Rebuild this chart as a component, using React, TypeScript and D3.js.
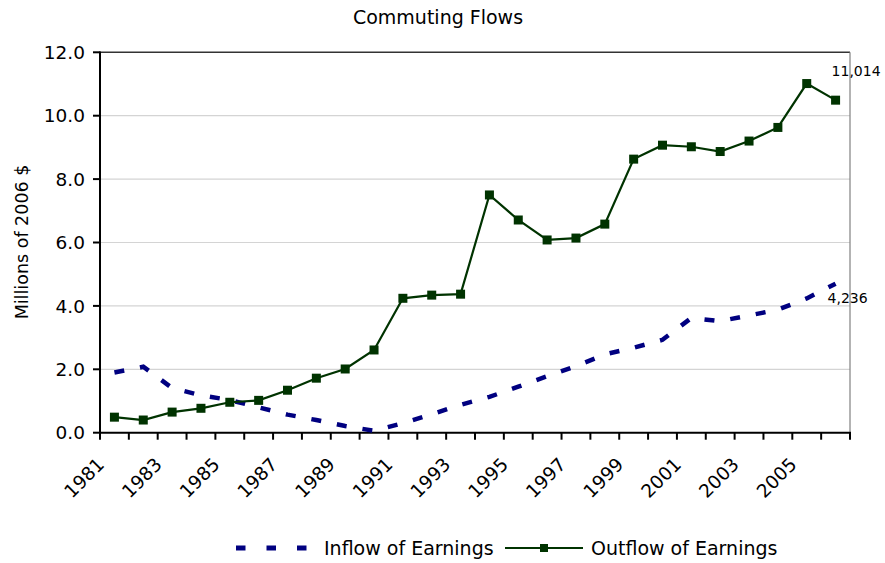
import * as d3 from 'd3'

const years = ['1981', '1982', '1983', '1984', '1985', '1986', '1987', '1988', '1989', '1990', '1991', '1992', '1993',
  '1994', '1995', '1996', '1997', '1998', '1999', '2000', '2001', '2002', '2003', '2004', '2005', '2006']

// millions of 2006 $
const inflow = [1.9, 2.08, 1.41, 1.18, 1.03, 0.8, 0.57, 0.4, 0.21, 0.06, 0.3, 0.58, 0.88, 1.13, 1.45, 1.78, 2.1,
  2.47, 2.68, 2.93, 3.62, 3.52, 3.7, 3.88, 4.236, 4.7]
const outflow = [0.49, 0.4, 0.65, 0.77, 0.96, 1.02, 1.34, 1.72, 2.01, 2.61, 4.24, 4.34, 4.37, 7.5, 6.71, 6.08, 6.14,
  6.58, 8.63, 9.07, 9.02, 8.87, 9.2, 9.63, 11.014, 10.49]

const yTicks = [0, 2, 4, 6, 8, 10, 12]
const labelYears = years.filter((_, i) => i % 2 === 0)

const FONT = '"DejaVu Sans", "Liberation Sans", Arial, sans-serif'
const NAVY = '#000080'
const GREEN = '#003300'

export default function App() {
  const width = 885
  const height = 563
  const left = 100
  const right = 850
  const top = 52.3
  const bottom = 432.7

  const x = d3.scaleBand<string>().domain(years).range([left, right]).padding(0)
  const y = d3.scaleLinear().domain([0, 12]).range([bottom, top])
  const cx = (yr: string) => x(yr)! + x.bandwidth() / 2

  const line = d3.line<number>()
    .x((_, i) => cx(years[i]))
    .y(d => y(d))

  const boundaries = years.map(yr => x(yr)!).concat([right])
  const last = years[years.length - 1]
  const sq = 9

  return (
    <svg width={width} height={height} style={{ position: 'absolute', left: 0, top: 0, background: '#fff' }}
      fontFamily={FONT}>
      <rect x={0} y={0} width={width} height={height} fill="#fff" />
      <text x={438} y={24} textAnchor="middle" fontSize={19} fill="#000">Commuting Flows</text>

      {/* gridlines */}
      {yTicks.filter(t => t > 0 && t < 12).map(t => (
        <line key={t} x1={left} x2={right} y1={y(t)} y2={y(t)} stroke="#d4d4d4" strokeWidth={1.2} />
      ))}
      {/* plot border */}
      <line x1={left} x2={right} y1={y(12)} y2={y(12)} stroke="#333" strokeWidth={1.4} />
      <line x1={right} x2={right} y1={top} y2={bottom} stroke="#808080" strokeWidth={1.2} />

      {/* y axis */}
      <line x1={left} x2={left} y1={top - 0.7} y2={bottom + 1} stroke="#000" strokeWidth={2} />
      {yTicks.map(t => (
        <g key={t}>
          <line x1={left - 7} x2={left} y1={y(t)} y2={y(t)} stroke="#000" strokeWidth={2} />
          <text x={85} y={y(t)} dy="0.36em" textAnchor="end" fontSize={18.5} fill="#000">{t.toFixed(1)}</text>
        </g>
      ))}
      <text transform={`translate(28,242) rotate(-90)`} textAnchor="middle" fontSize={17.5} fill="#000">
        Millions of 2006 $
      </text>

      {/* x axis */}
      <line x1={left - 1} x2={right + 1} y1={bottom} y2={bottom} stroke="#000" strokeWidth={2} />
      {boundaries.map((bx, i) => (
        <line key={i} x1={bx} x2={bx} y1={bottom} y2={bottom + 7} stroke="#000" strokeWidth={2} />
      ))}
      {labelYears.map(yr => (
        <text key={yr} transform={`translate(${cx(yr) - 9},${bottom + 33}) rotate(-45)`} textAnchor="end"
          fontSize={18.5} fill="#000">{yr}</text>
      ))}

      {/* series */}
      <path d={line(inflow)!} fill="none" stroke={NAVY} strokeWidth={4.5} strokeDasharray="10,16" />
      <path d={line(outflow)!} fill="none" stroke={GREEN} strokeWidth={2.2} />
      {outflow.map((v, i) => (
        <rect key={i} x={cx(years[i]) - sq / 2} y={y(v) - sq / 2} width={sq} height={sq} fill={GREEN} />
      ))}

      {/* value notes */}
      <text x={cx(last) - 4} y={y(outflow[24]) - 8} fontSize={14} fill="#000">
        {d3.format(',')(Math.round(outflow[24] * 1000))}
      </text>
      <text x={cx(last) - 8} y={y(inflow[24]) + 5} fontSize={14} fill="#000">
        {d3.format(',')(Math.round(inflow[24] * 1000))}
      </text>

      {/* legend */}
      <line x1={236} x2={308} y1={548} y2={548} stroke={NAVY} strokeWidth={5} strokeDasharray="9.5,21" />
      <text x={324} y={555} fontSize={19} fill="#000">Inflow of Earnings</text>
      <line x1={505} x2={583} y1={548} y2={548} stroke={GREEN} strokeWidth={2.2} />
      <rect x={544 - 4} y={548 - 4} width={8} height={8} fill={GREEN} />
      <text x={591} y={555} fontSize={19} fill="#000">Outflow of Earnings</text>
    </svg>
  )
}
